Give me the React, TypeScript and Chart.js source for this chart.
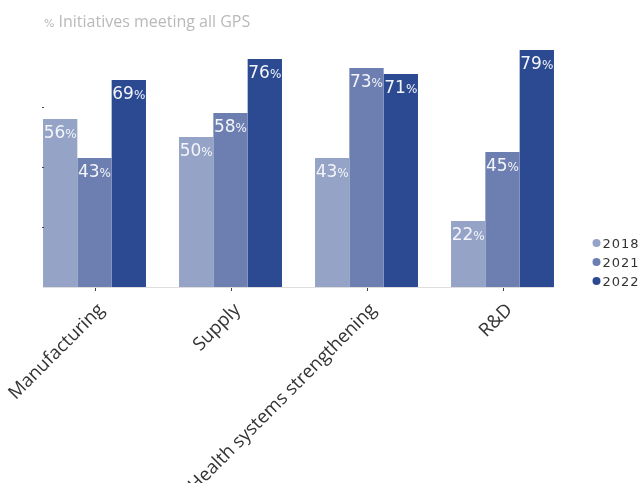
import React, { useEffect, useRef } from "react";
import { Chart, registerables } from "chart.js";

Chart.register(...registerables);

const categories = ["Manufacturing", "Supply", "Health systems strengthening", "R&D"];
const seriesNames = ["2018", "2021", "2022"];
const values2018 = [56, 50, 43, 22];
const values2021 = [43, 58, 73, 45];
const values2022 = [69, 76, 71, 79];
const seriesColors = ["#95a3c7", "#6d7fb1", "#2b4a92"];
const yTickValues = [20, 40, 60];
const titleText = "Initiatives meeting all GPS";

const CAT_PCT = 0.757;

const decorPlugin = {
  id: "decor",
  afterDatasetsDraw(chart: any) {
    const ctx = chart.ctx;
    const area = chart.chartArea;
    const xs = chart.scales.x;
    const ys = chart.scales.y;
    const catW = (area.right - area.left) / categories.length;
    const groupHalf = (catW * CAT_PCT) / 2;
    const axisLeft = xs.getPixelForValue(0) - groupHalf;
    const axisRight = xs.getPixelForValue(categories.length - 1) + groupHalf;

    ctx.save();
    // axis line
    ctx.strokeStyle = "#dedede";
    ctx.lineWidth = 1;
    ctx.beginPath();
    ctx.moveTo(axisLeft, area.bottom + 0.5);
    ctx.lineTo(axisRight, area.bottom + 0.5);
    ctx.stroke();

    // category tick marks + rotated category labels
    for (let i = 0; i < categories.length; i++) {
      const px = xs.getPixelForValue(i);
      ctx.fillStyle = "#444";
      ctx.fillRect(Math.round(px), area.bottom + 1, 1, 3);
      ctx.save();
      ctx.translate(px + 7, area.bottom + 20);
      ctx.rotate(-Math.PI / 4);
      ctx.fillStyle = "#333333";
      ctx.font = "18.5px 'Open Sans'";
      ctx.textAlign = "right";
      ctx.textBaseline = "middle";
      ctx.fillText(String(xs.getLabelForValue(i)), 0, 0);
      ctx.restore();
    }

    // tiny y tick marks
    ctx.fillStyle = "#444";
    for (const v of yTickValues) {
      const y = Math.round(ys.getPixelForValue(v));
      ctx.fillRect(Math.round(axisLeft) - 1, y, 2, 1);
    }

    // value labels
    chart.data.datasets.forEach((ds: any, di: number) => {
      const meta = chart.getDatasetMeta(di);
      meta.data.forEach((bar: any, i: number) => {
        const val = String(ds.data[i]);
        ctx.font = "17px 'DejaVu Sans'";
        const w1 = ctx.measureText(val).width;
        ctx.font = "12px 'DejaVu Sans'";
        const w2 = ctx.measureText("%").width;
        const x0 = bar.x - (w1 + w2) / 2;
        const yb = bar.y + 18.5;
        ctx.fillStyle = "#f4f5fa";
        ctx.textBaseline = "alphabetic";
        ctx.textAlign = "left";
        ctx.font = "17px 'DejaVu Sans'";
        ctx.fillText(val, x0, yb);
        ctx.font = "12px 'DejaVu Sans'";
        ctx.fillText("%", x0 + w1, yb);
      });
    });

    // title
    ctx.fillStyle = "#b9b9b9";
    ctx.textBaseline = "alphabetic";
    ctx.textAlign = "left";
    ctx.font = "11px 'DejaVu Sans'";
    ctx.fillText("%", axisLeft + 1, 27);
    const pw = ctx.measureText("%").width;
    ctx.font = "16px 'Open Sans'";
    ctx.fillText(titleText, axisLeft + 1 + pw + 4, 27);

    // legend
    const legendX = area.right + 26;
    const legendY0 = 243;
    seriesNames.forEach((name, i) => {
      const cy = legendY0 + i * 19;
      ctx.fillStyle = seriesColors[i];
      ctx.beginPath();
      ctx.arc(legendX, cy, 4, 0, Math.PI * 2);
      ctx.fill();
      ctx.fillStyle = "#333333";
      ctx.font = "13px 'DejaVu Sans'";
      (ctx as any).letterSpacing = "1px";
      ctx.fillText(name, legendX + 6, cy + 5);
      (ctx as any).letterSpacing = "0px";
    });
    ctx.restore();
  },
};

export default function App() {
  const ref = useRef<HTMLCanvasElement | null>(null);
  useEffect(() => {
    if (!ref.current) return;
    const chart = new Chart(ref.current, {
      type: "bar",
      data: {
        labels: categories,
        datasets: [values2018, values2021, values2022].map((d, i) => ({
          label: seriesNames[i],
          data: d,
          backgroundColor: seriesColors[i],
          borderWidth: 0,
          categoryPercentage: CAT_PCT,
          barPercentage: 1,
        })),
      },
      options: {
        animation: false,
        responsive: true,
        maintainAspectRatio: false,
        layout: { padding: { top: 47, right: 73.5, left: 26.5, bottom: 0 } },
        plugins: {
          legend: { display: false },
          title: { display: false },
          tooltip: { enabled: false },
        },
        scales: {
          x: {
            offset: true,
            border: { display: false },
            grid: { display: false },
            ticks: { display: false },
            afterFit: (s: any) => {
              s.height = 196;
            },
          },
          y: {
            display: false,
            min: 0,
            max: 80,
          },
        },
      },
      plugins: [decorPlugin],
    });
    return () => chart.destroy();
  }, []);
  return (
    <div style={{ position: "absolute", left: 0, top: 0, width: 644, height: 483, background: "#fff" }}>
      <canvas ref={ref} />
    </div>
  );
}
